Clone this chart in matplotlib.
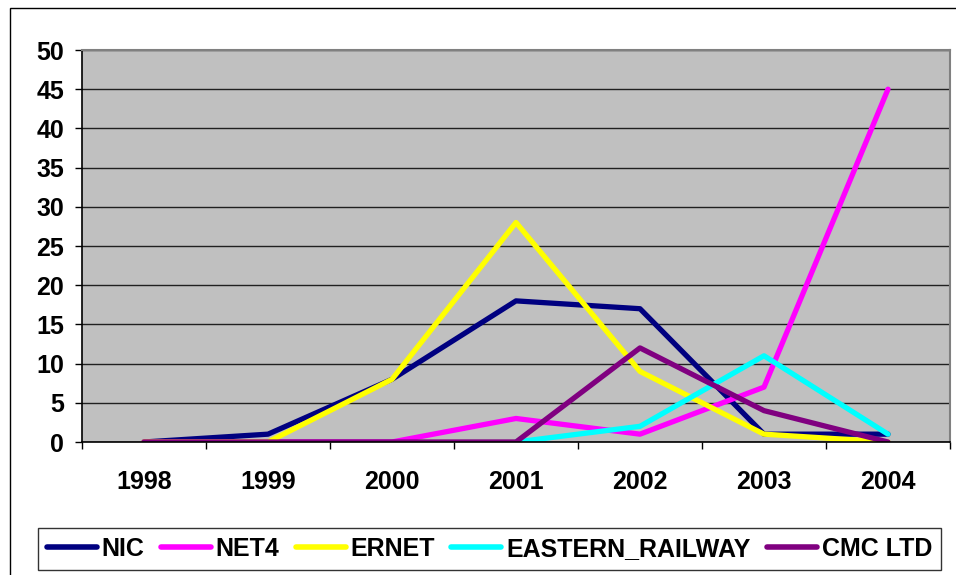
import numpy as np
import matplotlib
matplotlib.use('Agg')
import matplotlib.pyplot as plt
from matplotlib.patches import Rectangle

# yearly counts per provider
years = ['1998', '1999', '2000', '2001', '2002', '2003', '2004']
nic = [0, 1, 8, 18, 17, 1, 1]
net4 = [0, 0, 0, 3, 1, 7, 45]
ernet = [0, 0, 8, 28, 9, 1, 0]
eastern_railway = [np.nan, np.nan, np.nan, 0, 2, 11, 1]
cmc_ltd = [0, 0, 0, 0, 12, 4, 0]

series = [
    ('NIC', nic, '#000080'),
    ('NET4', net4, '#FF00FF'),
    ('ERNET', ernet, '#FFFF00'),
    ('EASTERN_RAILWAY', eastern_railway, '#00FFFF'),
    ('CMC LTD', cmc_ltd, '#800080'),
]

plt.rcParams['font.family'] = ['Liberation Sans', 'DejaVu Sans']
plt.rcParams['font.weight'] = 'bold'

fig = plt.figure(figsize=(9.56, 5.75), dpi=100)
ax = fig.add_axes([82/956, 1 - 442/575, 868/956, 392/575])
ax.set_facecolor('#C0C0C0')

x = np.arange(len(years))
for name, vals, col in series:
    ax.plot(x, vals, color=col, lw=3.8, label=name,
            solid_joinstyle='round', solid_capstyle='round')

ax.set_ylim(0, 50)
ax.set_yticks(range(0, 51, 5))
ax.set_xlim(-0.5, len(years) - 0.5)
ax.set_xticks(x)
ax.set_xticklabels(years)
ax.set_xticks(np.arange(-0.5, len(years)), minor=True)

ax.grid(axis='y', color='#202020', lw=1.0)
ax.set_axisbelow(True)

ax.tick_params(axis='y', which='major', direction='out', length=5, width=1,
               pad=8, labelsize=18)
ax.tick_params(axis='x', which='major', length=0, pad=20, labelsize=18)
ax.tick_params(axis='x', which='minor', direction='out', length=5, width=1)

for s in ['left', 'bottom']:
    ax.spines[s].set_color('black')
    ax.spines[s].set_linewidth(1.2)
for s in ['top', 'right']:
    ax.spines[s].set_color('#808080')
    ax.spines[s].set_linewidth(1.5)

leg = fig.legend(loc='center', bbox_to_anchor=(489.5/956, 1 - 549/575),
                 ncol=5, frameon=True, fancybox=False, edgecolor='black',
                 fontsize=18, handlelength=2.0, handletextpad=0.2,
                 columnspacing=0.65, borderpad=0.35, borderaxespad=0)
leg.get_frame().set_linewidth(1.0)
for h in leg.get_lines():
    h.set_linewidth(4)
    h.set_solid_capstyle('round')

# outer chart border
fig.patches.append(Rectangle((10/956, -0.1), 1.2, 1.1 - 8/575,
                             transform=fig.transFigure, fill=False,
                             edgecolor='black', lw=1.0))

fig.savefig('out.png', dpi=100)
